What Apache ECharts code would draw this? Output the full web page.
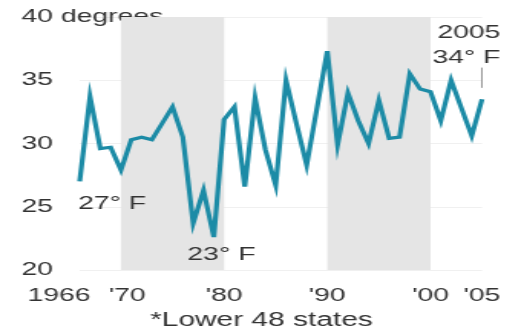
<!DOCTYPE html>
<html>
<head>
<meta charset="utf-8">
<script src="https://cdn.jsdelivr.net/npm/echarts@6/dist/echarts.min.js"></script>
<style>
  html, body { margin: 0; padding: 0; background: #ffffff; overflow: hidden; }
  #chart { width: 342px; height: 334px; transform: scaleX(1.5322); transform-origin: 0 0; }
</style>
</head>
<body>
<div id="chart"></div>
<script>
// ---- data ----
const years = [1966,1967,1968,1969,1970,1971,1972,1973,1974,1975,
               1976,1977,1978,1979,1980,1981,1982,1983,1984,1985,
               1986,1987,1988,1989,1990,1991,1992,1993,1994,1995,
               1996,1997,1998,1999,2000,2001,2002,2003,2004,2005];
const temps = [27.0,33.7,29.6,29.7,27.9,30.3,30.5,30.3,31.6,32.9,
               30.5,23.7,26.3,22.6,31.9,32.9,26.6,33.6,29.5,26.7,
               35.0,31.6,28.3,32.8,37.3,29.9,34.0,31.8,30.0,33.4,
               30.4,30.5,35.5,34.3,34.1,31.8,35.0,32.8,30.6,33.5];
const xTickValues = [1966, 1970, 1980, 1990, 2000, 2005];
const xTickLabels = ['1966', "'70", "'80", "'90", "'00", "'05"];
const yTickValues = [20, 25, 30, 35, 40];
const yTickLabels = ['20', '25', '30', '35', '40 degrees'];
const shadedDecades = [[1970, 1980], [1990, 2000]];
const annotations = [
  { year: 1966, value: 27.0, text: '27° F' },
  { year: 1979, value: 22.6, text: '23° F' },
  { year: 2005, value: 33.5, text: '2005\n34° F' }
];
const footnote = '*Lower 48 states';

// ---- chart ----
const FONT = "'Liberation Sans', Arial, Helvetica, sans-serif";
const TXT = '#333333';
const chart = echarts.init(document.getElementById('chart'), null, { renderer: 'canvas' });

const labelStyles = [
  { align: 'left', offset: [-1, 22] },
  { align: 'center', offset: [5, 18] },
  { align: 'right', offset: [12, -54] }
];

const option = {
  backgroundColor: '#ffffff',
  animation: false,
  title: {
    text: footnote,
    left: 98,
    top: 311,
    textStyle: { fontFamily: FONT, fontSize: 19.5, fontWeight: 'normal', color: TXT },
    padding: 0
  },
  grid: { left: 52, right: 27.4, top: 17, bottom: 64, containLabel: false },
  xAxis: {
    type: 'value',
    min: 1966,
    max: 2005,
    axisLine: { show: false },
    axisTick: { show: false },
    splitLine: { show: false },
    axisLabel: {
      customValues: xTickValues,
      margin: 16,
      fontFamily: FONT,
      fontSize: 18.5,
      color: TXT,
      formatter: function (v) {
        const i = xTickValues.indexOf(v);
        if (i < 0) return '';
        if (i === 0) return '{first|' + xTickLabels[i] + '}';
        if (i === 1) return '{second|' + xTickLabels[i] + '}';
        return xTickLabels[i];
      },
      rich: {
        first: { fontFamily: FONT, fontSize: 18.5, color: TXT, padding: [0, 27, 0, 0] },
        second: { fontFamily: FONT, fontSize: 18.5, color: TXT, padding: [0, 0, 0, 8] }
      }
    }
  },
  yAxis: {
    type: 'value',
    min: 20,
    max: 40,
    interval: 5,
    axisLine: { show: false },
    axisTick: { show: false },
    splitLine: { show: true, lineStyle: { color: '#f0f0f0', width: 1 } },
    axisLabel: {
      align: 'left',
      margin: 38,
      fontFamily: FONT,
      fontSize: 18.5,
      color: TXT,
      formatter: function (v) {
        const i = yTickValues.indexOf(v);
        return i < 0 ? '' : yTickLabels[i];
      }
    }
  },
  series: [{
    type: 'line',
    data: years.map((y, i) => [y, temps[i]]),
    symbol: 'none',
    smooth: false,
    lineStyle: { color: '#1c8ba6', width: 3.2, join: 'miter' },
    markArea: {
      silent: true,
      itemStyle: { color: '#e5e5e5' },
      data: shadedDecades.map(d => [{ xAxis: d[0] }, { xAxis: d[1] }])
    },
    markLine: {
      silent: true,
      symbol: 'none',
      label: { show: false },
      lineStyle: { color: '#999999', width: 1, type: 'solid' },
      data: [[{ coord: [2005, 36.0] }, { coord: [2005, 34.4] }]]
    },
    markPoint: {
      silent: true,
      symbol: 'rect',
      symbolSize: 1,
      itemStyle: { color: 'rgba(0,0,0,0)' },
      data: annotations.map((a, i) => ({
        coord: [a.year, a.value],
        label: {
          show: true,
          position: 'inside',
          formatter: a.text,
          align: labelStyles[i].align,
          verticalAlign: 'middle',
          offset: labelStyles[i].offset,
          fontFamily: FONT,
          fontSize: 18.5,
          lineHeight: 25.5,
          color: TXT
        }
      }))
    }
  }]
};
chart.setOption(option);
</script>
</body>
</html>
